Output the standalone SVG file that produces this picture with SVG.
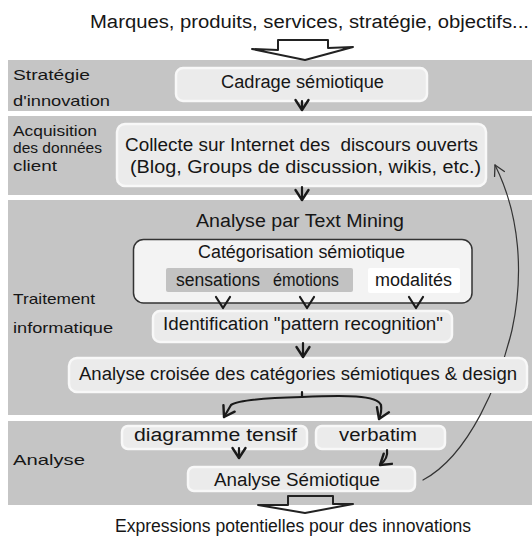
<svg xmlns="http://www.w3.org/2000/svg" width="532" height="546" viewBox="0 0 532 546">
<style>
  .band { fill: #c5c5c5; }
  .box { fill: #ebebeb; stroke: #f8f8f8; stroke-width: 2.5; }
  .t { font-family: "Liberation Sans", Arial, sans-serif; font-size: 18px; fill: #161616; }
  .lbl { font-family: "Liberation Sans", Arial, sans-serif; font-size: 15px; fill: #161616; }
  .c { fill: none; stroke: #1a1a1a; stroke-width: 2.2; stroke-linecap: round; stroke-linejoin: round; }
  .thin { fill: none; stroke: #333; stroke-width: 1.2; stroke-linecap: round; }
  .big { fill: none; stroke: #222; stroke-width: 2; stroke-linejoin: round; }
</style>
<defs>
  <marker id="v" markerUnits="userSpaceOnUse" markerWidth="14" markerHeight="14" refX="10" refY="6.5" orient="auto" overflow="visible">
    <path d="M0,0 L10,6.5 L0,13" fill="none" stroke="#1a1a1a" stroke-width="2.4" stroke-linecap="round" stroke-linejoin="round"/>
  </marker>
  <marker id="vt" markerUnits="userSpaceOnUse" markerWidth="14" markerHeight="14" refX="10" refY="6" orient="auto" overflow="visible">
    <path d="M0,0.5 L10,6 L0,11.5" fill="none" stroke="#333" stroke-width="1.3" stroke-linecap="round" stroke-linejoin="round"/>
  </marker>
  <mask id="behindBox" maskUnits="userSpaceOnUse" x="0" y="0" width="532" height="546">
    <rect x="0" y="0" width="532" height="546" fill="#fff"/>
    <rect x="68" y="357" width="460" height="36" rx="8" fill="#000"/>
  </mask>
</defs>

<rect width="532" height="546" fill="#ffffff"/>

<g id="bands">
  <rect class="band" x="8" y="60" width="524" height="51"/>
  <rect class="band" x="8" y="116" width="524" height="79"/>
  <rect class="band" x="8" y="200" width="524" height="215"/>
  <rect class="band" x="8" y="421" width="524" height="84"/>
</g>

<g id="lane-labels">
  <text class="lbl" x="13" y="80" textLength="77" lengthAdjust="spacingAndGlyphs">Stratégie</text>
  <text class="lbl" x="13" y="106" textLength="97" lengthAdjust="spacingAndGlyphs">d'innovation</text>
  <text class="lbl" x="13" y="136" textLength="84" lengthAdjust="spacingAndGlyphs">Acquisition</text>
  <text class="lbl" x="13" y="153" textLength="89" lengthAdjust="spacingAndGlyphs">des données</text>
  <text class="lbl" x="13" y="171" textLength="44" lengthAdjust="spacingAndGlyphs">client</text>
  <text class="lbl" x="13" y="304" textLength="82" lengthAdjust="spacingAndGlyphs">Traitement</text>
  <text class="lbl" x="13" y="333" textLength="100" lengthAdjust="spacingAndGlyphs">informatique</text>
  <text class="lbl" x="13" y="465" font-size="17" textLength="72" lengthAdjust="spacingAndGlyphs">Analyse</text>
</g>

<g id="intro">
  <text class="t" x="90" y="28" font-size="19" textLength="439" lengthAdjust="spacingAndGlyphs">Marques, produits, services, stratégie, objectifs...</text>
</g>

<g id="cadrage">
  <rect class="box" x="176" y="68" width="251" height="33" rx="7"/>
  <text class="t" x="221" y="88" textLength="163" lengthAdjust="spacingAndGlyphs">Cadrage sémiotique</text>
</g>

<g id="collecte">
  <rect class="box" x="117" y="124" width="369" height="62" rx="8"/>
  <text class="t" x="125" y="151" font-size="19" textLength="353" lengthAdjust="spacingAndGlyphs" style="white-space:pre">Collecte sur Internet des  discours ouverts</text>
  <text class="t" x="130" y="173" font-size="19" textLength="351" lengthAdjust="spacingAndGlyphs">(Blog, Groups de discussion, wikis, etc.)</text>
</g>

<g id="text-mining">
  <text class="t" x="196" y="227" textLength="208" lengthAdjust="spacingAndGlyphs">Analyse par Text Mining</text>
</g>

<g id="categorisation">
  <rect x="133.5" y="239.5" width="338.5" height="63.5" rx="10" fill="#f3f3f3" stroke="#333" stroke-width="1.5"/>
  <text class="t" x="198" y="258" textLength="207" lengthAdjust="spacingAndGlyphs">Catégorisation sémiotique</text>
  <rect x="166" y="268" width="187" height="24" rx="2" fill="#c2c2c2"/>
  <rect x="368" y="268" width="92" height="25" rx="2" fill="#ffffff"/>
  <text class="t" x="176" y="286" textLength="84" lengthAdjust="spacingAndGlyphs">sensations</text>
  <text class="t" x="273" y="286" textLength="66" lengthAdjust="spacingAndGlyphs">émotions</text>
  <text class="t" x="375" y="286" textLength="77" lengthAdjust="spacingAndGlyphs">modalités</text>
</g>

<g id="identification">
  <rect class="box" x="153" y="311" width="299" height="31" rx="7"/>
  <text class="t" x="163" y="330" textLength="280" lengthAdjust="spacingAndGlyphs">Identification "pattern recognition"</text>
</g>

<g id="analyse-croisee">
  <rect class="box" x="69" y="358" width="458" height="34" rx="8"/>
  <text class="t" x="79" y="380" textLength="438" lengthAdjust="spacingAndGlyphs">Analyse croisée des catégories sémiotiques &amp; design</text>
</g>

<g id="diagramme">
  <rect class="box" x="122" y="426" width="185" height="23" rx="6"/>
  <text class="t" x="134" y="441" textLength="163" lengthAdjust="spacingAndGlyphs">diagramme tensif</text>
</g>

<g id="verbatim">
  <rect class="box" x="316" y="426" width="129" height="23" rx="6"/>
  <text class="t" x="339" y="441" textLength="78" lengthAdjust="spacingAndGlyphs">verbatim</text>
</g>

<g id="analyse-semiotique">
  <rect class="box" x="188" y="467" width="227" height="24" rx="6"/>
  <text class="t" x="214" y="486" textLength="166" lengthAdjust="spacingAndGlyphs">Analyse Sémiotique</text>
</g>

<g id="outro">
  <text class="t" x="115" y="532" font-size="19" textLength="356" lengthAdjust="spacingAndGlyphs">Expressions potentielles pour des innovations</text>
</g>

<g id="connectors">
  <path class="big" d="M278,50 L278,40 L328,40 L328,48 L353,47 L305,60 L252,49 Z"/>
  <path class="big" d="M288,505 L288,496 L333,496 L333,504 L353,504 L305,513 L258,505 Z"/>
  <path class="thin" d="M423,480 C470,455 500,380 512,330 C524,275 520,215 495,165" marker-end="url(#vt)" mask="url(#behindBox)"/>
  <path class="c" d="M302,101 L302,110" marker-end="url(#v)"/>
  <path class="c" d="M302,187 L302,200" marker-end="url(#v)"/>
  <path class="c" d="M216,297 L223,308 L230,297"/>
  <path class="c" d="M300,297 L307,308 L314,297"/>
  <path class="c" d="M409,297 L416,308 L423,297"/>
  <path class="c" d="M303,343 L303,357" marker-end="url(#v)"/>
  <path class="c" d="M302,392 L302,397"/>
  <path class="c" d="M302,397 C265,398 238,400 231,405 L224,417" marker-end="url(#v)"/>
  <path class="c" d="M302,397 C345,395 377,395 381,405 Q382,412 379,419" marker-end="url(#v)"/>
  <path class="c" d="M239,448 L239,458" marker-end="url(#v)"/>
  <path class="c" d="M387,450 C388,456 385,461 380,465" marker-end="url(#v)"/>
</g>
</svg>
